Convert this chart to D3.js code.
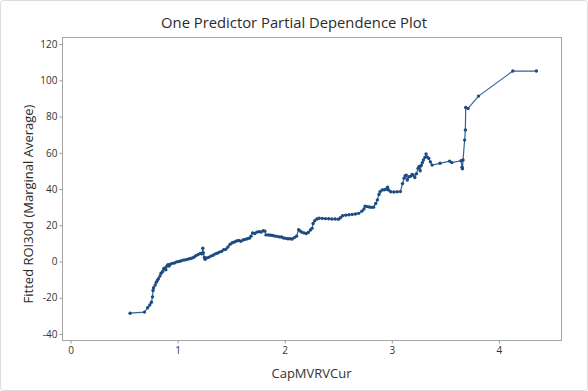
<!DOCTYPE html>
<html><head><meta charset="utf-8">
<script src="https://cdn.jsdelivr.net/npm/d3@7"></script>
<style>body{margin:0;background:#fff}svg{display:block;font-family:"Open Sans","Noto Sans",sans-serif}</style>
</head><body>
<script>
const title = "One Predictor Partial Dependence Plot";
const xLabel = "CapMVRVCur";
const yLabel = "Fitted ROI30d (Marginal Average)";
const xTicks = [0,1,2,3,4];
const yTicks = [-40,-20,0,20,40,60,80,100,120];
const xVals = [0.556,0.69,0.72,0.74,0.755,0.765,0.77,0.775,0.79,0.80,0.81,0.82,0.835,0.845,0.86,0.87,0.88,0.89,0.90,0.91,0.92,0.93,0.95,0.97,0.99,1.01,1.03,1.05,1.07,1.09,1.11,1.13,1.15,1.17,1.19,1.21,1.225,1.235,1.24,1.25,1.257,1.27,1.29,1.31,1.33,1.35,1.37,1.39,1.41,1.43,1.45,1.47,1.49,1.51,1.53,1.55,1.57,1.59,1.61,1.63,1.65,1.67,1.685,1.70,1.72,1.74,1.76,1.78,1.80,1.815,1.825,1.85,1.87,1.89,1.91,1.93,1.95,1.97,1.99,2.01,2.03,2.05,2.07,2.09,2.11,2.13,2.145,2.16,2.18,2.20,2.22,2.24,2.255,2.265,2.28,2.30,2.32,2.35,2.38,2.41,2.44,2.47,2.50,2.52,2.54,2.57,2.60,2.63,2.66,2.69,2.72,2.74,2.75,2.77,2.79,2.81,2.83,2.85,2.865,2.88,2.89,2.91,2.93,2.95,2.96,2.97,2.99,3.02,3.05,3.08,3.10,3.115,3.125,3.135,3.145,3.16,3.175,3.19,3.20,3.215,3.23,3.245,3.255,3.265,3.275,3.285,3.295,3.31,3.32,3.335,3.345,3.36,3.376,3.45,3.54,3.56,3.647,3.656,3.66,3.665,3.68,3.687,3.69,3.712,3.81,4.13,4.35];
const yVals = [-28.5,-27.9,-25.5,-24,-22.5,-19.5,-16,-14.5,-13,-11.5,-10.5,-9.5,-8,-6.5,-5.5,-4,-3.5,-4.5,-2.5,-1.8,-2.5,-1.5,-1,-0.8,-0.2,0,0.3,0.8,0.9,1.2,1.5,1.8,2.4,3.2,3.8,4.5,4.2,7.3,4.8,2.2,1.2,2.0,2.3,3,3.5,4.2,4.6,5.2,5.6,6.5,6.8,8,9.5,10.4,10.8,11.3,11.6,11.2,11.9,12.2,12.6,12.9,14,15.8,15.5,16.2,16.5,16.3,17,16.8,14.7,14.6,14.5,14.4,14.0,13.9,13.6,13.5,13,12.8,12.6,12.6,12.4,13.2,14,17.5,16.8,16.2,15.8,15.5,16,17.4,18.3,21,22.5,23.5,23.9,23.8,23.7,23.6,23.5,23.5,23.3,24.2,25.3,25.6,25.8,26,26.2,26.6,27.8,29,30.6,30.3,30.1,29.9,30,32,34,37,38.5,39.5,39.6,39.9,41,39.5,38.5,38.4,38.5,38.6,43,46,47.3,47.7,45,46.8,47,48,47.7,46.4,48.5,51.4,52.5,50.1,53,54.5,56,57.5,59.3,57.5,56.9,55,53.2,54.2,55.4,54.6,55.6,52,51.2,56,67,72.6,85,84.5,91.3,105.1,105.1];

const W = 588, H = 391;
const frame = {l:62, r:561, t:37, b:340};
const svg = d3.select("body").append("svg").attr("width",W).attr("height",H);
svg.append("rect").attr("x",0.5).attr("y",0.5).attr("width",W-1).attr("height",H-1)
  .attr("rx",3).attr("fill","#fff").attr("stroke","#dcdcdc");

const x = d3.scaleLinear().domain([-0.08,4.58]).range([frame.l, frame.r]);
const y = d3.scaleLinear().domain([-43.3,123.9]).range([frame.b, frame.t]);

svg.append("rect").attr("x",frame.l+0.5).attr("y",frame.t+0.5)
  .attr("width",frame.r-frame.l).attr("height",frame.b-frame.t)
  .attr("fill","none").attr("stroke","#a6a6a6");

const gx = svg.append("g").attr("transform",`translate(0,${frame.b+0.5})`)
  .call(d3.axisBottom(x).tickValues(xTicks).tickSize(3).tickPadding(3).tickFormat(d3.format("d")));
const gy = svg.append("g").attr("transform",`translate(${frame.l+0.5},0)`)
  .call(d3.axisLeft(y).tickValues(yTicks).tickSize(3).tickPadding(2).tickFormat(d3.format("d")));
[gx,gy].forEach(g=>{
  g.select(".domain").remove();
  g.selectAll(".tick line").attr("stroke","#9a9a9a");
  g.selectAll(".tick text").attr("fill","#333").attr("font-size","10px")
   .attr("font-family",'"Open Sans","Noto Sans",sans-serif');
});
gy.selectAll(".tick text").text(d=> d<0 ? "-"+Math.abs(d) : d);

const pts = xVals.map((v,i)=>[v,yVals[i]]);
svg.append("path").datum(pts)
  .attr("d", d3.line().x(d=>x(d[0])).y(d=>y(d[1])))
  .attr("fill","none").attr("stroke","#2f639b").attr("stroke-width",1.2);
svg.append("g").selectAll("circle").data(pts).join("circle")
  .attr("cx",d=>x(d[0])).attr("cy",d=>y(d[1])).attr("r",1.7)
  .attr("fill","#1c4b80");

svg.append("text").attr("x",W/2).attr("y",28).attr("text-anchor","middle")
  .attr("font-size","14.8px").attr("fill","#2b2b2b").text(title);
svg.append("text").attr("x",(frame.l+frame.r)/2).attr("y",378).attr("text-anchor","middle")
  .attr("font-size","13px").attr("fill","#333").text(xLabel);
svg.append("text").attr("transform","translate(33,204) rotate(-90)").attr("text-anchor","middle")
  .attr("font-size","13px").attr("fill","#2b2b2b").text(yLabel);
</script>
</body></html>
